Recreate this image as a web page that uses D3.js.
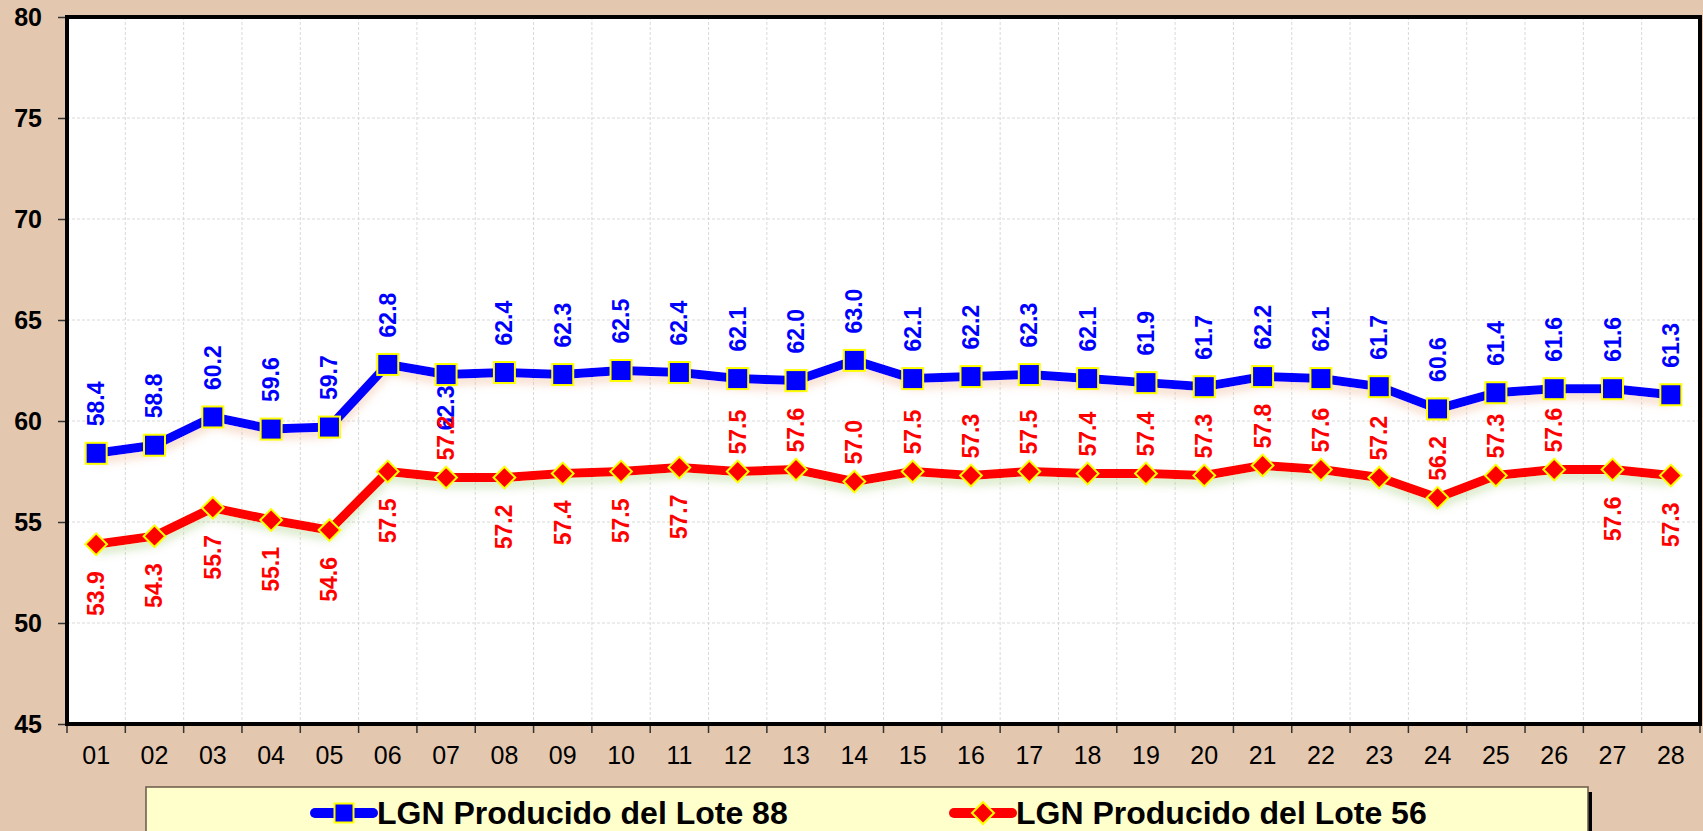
<!DOCTYPE html>
<html>
<head>
<meta charset="utf-8">
<script src="https://cdn.jsdelivr.net/npm/d3@7"></script>
<style>
  html, body { margin: 0; padding: 0; background: #E4C7AF; }
  svg { display: block; }
</style>
</head>
<body>
<svg id="chart" width="1703" height="831"></svg>
<script>
const categories = ["01","02","03","04","05","06","07","08","09","10","11","12","13","14","15","16","17","18","19","20","21","22","23","24","25","26","27","28"];
const lote88 = [58.4,58.8,60.2,59.6,59.7,62.8,62.3,62.4,62.3,62.5,62.4,62.1,62.0,63.0,62.1,62.2,62.3,62.1,61.9,61.7,62.2,62.1,61.7,60.6,61.4,61.6,61.6,61.3];
const lote56 = [53.9,54.3,55.7,55.1,54.6,57.5,57.2,57.2,57.4,57.5,57.7,57.5,57.6,57.0,57.5,57.3,57.5,57.4,57.4,57.3,57.8,57.6,57.2,56.2,57.3,57.6,57.6,57.3];
// label side per point: 1 = above the point, -1 = below
const lote88Side = [1,1,1,1,1,1,-1,1,1,1,1,1,1,1,1,1,1,1,1,1,1,1,1,1,1,1,1,1];
const lote56Side = [-1,-1,-1,-1,-1,-1,1,-1,-1,-1,-1,1,1,1,1,1,1,1,1,1,1,1,1,1,1,1,-1,-1];
const yTicks = [45,50,55,60,65,70,75,80];
const seriesNames = ["LGN Producido del Lote 88","LGN Producido del Lote 56"];

const svg = d3.select("#chart");
const X0 = 67, X1 = 1700, Y0 = 17, Y1 = 724;
const x = d3.scaleBand().domain(categories).range([X0, X1]).padding(0);
const y = d3.scaleLinear().domain([45, 80]).range([Y1, Y0]);
const cx = c => x(c) + x.bandwidth() / 2;
const font = "'Liberation Sans', Arial, sans-serif";

const defs = svg.append("defs");
function shadow(id, color) {
  const f = defs.append("filter").attr("id", id).attr("x", "-5%").attr("y", "-50%").attr("width", "110%").attr("height", "200%");
  f.append("feDropShadow").attr("dx", 0).attr("dy", 6).attr("stdDeviation", 4)
    .attr("flood-color", color).attr("flood-opacity", 0.35);
}
shadow("shB", "#e89a6a");
shadow("shR", "#8fbf5a");

// plot background
svg.append("rect").attr("x", X0).attr("y", Y0).attr("width", X1 - X0).attr("height", Y1 - Y0).attr("fill", "#fff");

// gridlines
const grid = svg.append("g").attr("stroke", "#d9d9d9").attr("stroke-width", 1).attr("stroke-dasharray", "3,2");
grid.selectAll("line.h").data(yTicks).join("line")
  .attr("x1", X0).attr("x2", X1).attr("y1", d => y(d)).attr("y2", d => y(d));
grid.selectAll("line.v").data(categories.slice(1)).join("line")
  .attr("x1", d => x(d)).attr("x2", d => x(d)).attr("y1", Y0).attr("y2", Y1);

// axes
const yAxis = svg.append("g").attr("transform", `translate(${X0},0)`)
  .call(d3.axisLeft(y).tickValues(yTicks).tickSize(9).tickPadding(16).tickFormat(d3.format("d")));
yAxis.select(".domain").remove();
yAxis.selectAll("line").attr("stroke", "#333").attr("stroke-width", 1.5);
yAxis.selectAll("text").attr("font-family", font).attr("font-size", 25).attr("font-weight", "bold").attr("fill", "#000");

const xAxis = svg.append("g").attr("transform", `translate(0,${Y1})`)
  .call(d3.axisBottom(x).tickSize(0).tickPadding(22));
xAxis.select(".domain").remove();
xAxis.selectAll("text").attr("font-family", font).attr("font-size", 25).attr("fill", "#000");
const tickPos = categories.map(c => x(c)).concat([X1]);
svg.append("g").selectAll("line").data(tickPos).join("line")
  .attr("x1", d => d).attr("x2", d => d).attr("y1", Y1).attr("y2", Y1 + 9)
  .attr("stroke", "#333").attr("stroke-width", 1.5);

// series
const series = [
  { vals: lote88, side: lote88Side, color: "#0000FF", sh: "shB", shape: "square", offAbove: 27, offBelow: 11 },
  { vals: lote56, side: lote56Side, color: "#FF0000", sh: "shR", shape: "diamond", offAbove: 17, offBelow: 27 }
];
const line = d3.line().x((d, i) => cx(categories[i])).y(d => y(d));

series.forEach(s => {
  svg.append("path").datum(s.vals).attr("d", line).attr("fill", "none")
    .attr("stroke", s.color).attr("stroke-width", 9).attr("stroke-linejoin", "round")
    .attr("filter", `url(#${s.sh})`);
});
series.forEach(s => {
  const g = svg.append("g");
  if (s.shape === "square") {
    g.selectAll("rect").data(s.vals).join("rect")
      .attr("x", (d, i) => cx(categories[i]) - 10.5).attr("y", d => y(d) - 10.5)
      .attr("width", 21).attr("height", 21)
      .attr("fill", s.color).attr("stroke", "#FFFF00").attr("stroke-width", 2);
  } else {
    const sym = d3.symbol().type(d3.symbolSquare).size(235)();
    g.selectAll("path").data(s.vals).join("path")
      .attr("d", sym)
      .attr("transform", (d, i) => `translate(${cx(categories[i])},${y(d)}) rotate(45)`)
      .attr("fill", s.color).attr("stroke", "#FFFF00").attr("stroke-width", 2);
  }
});
series.forEach(s => {
  svg.append("g").selectAll("text").data(s.vals).join("text")
    .attr("transform", (d, i) => {
      const off = s.side[i] > 0 ? -s.offAbove : s.offBelow;
      return `translate(${cx(categories[i])},${y(d) + off}) rotate(-90)`;
    })
    .attr("text-anchor", (d, i) => s.side[i] > 0 ? "start" : "end")
    .attr("dominant-baseline", "central")
    .attr("font-family", font).attr("font-size", 23).attr("font-weight", "bold")
    .attr("fill", s.color)
    .text(d => d.toFixed(1));
});

// plot border
svg.append("rect").attr("x", X0).attr("y", Y0).attr("width", X1 - X0).attr("height", Y1 - Y0)
  .attr("fill", "none").attr("stroke", "#000").attr("stroke-width", 4);

// legend
const LX = 146, LY = 787, LW = 1442;
svg.append("rect").attr("x", LX + 4).attr("y", LY + 5).attr("width", LW).attr("height", 80).attr("fill", "#000");
svg.append("rect").attr("x", LX).attr("y", LY).attr("width", LW).attr("height", 80)
  .attr("fill", "#FFFFCC").attr("stroke", "#6b5a4a").attr("stroke-width", 1.5);
const legendX = [315, 954];
series.forEach((s, k) => {
  const g = svg.append("g").attr("transform", `translate(${legendX[k]},813)`);
  g.append("line").attr("x1", 0).attr("x2", 58).attr("y1", 0).attr("y2", 0)
    .attr("stroke", s.color).attr("stroke-width", 10).attr("stroke-linecap", "round");
  if (s.shape === "square") {
    g.append("rect").attr("x", 29 - 9.5).attr("y", -9.5).attr("width", 19).attr("height", 19)
      .attr("fill", s.color).attr("stroke", "#FFFF00").attr("stroke-width", 2);
  } else {
    g.append("path").attr("d", "M29,-11 L40,0 L29,11 L18,0 Z")
      .attr("fill", s.color).attr("stroke", "#FFFF00").attr("stroke-width", 2);
  }
  g.append("text").attr("x", 62).attr("y", 0).attr("dominant-baseline", "central")
    .attr("font-family", font).attr("font-size", 32).attr("font-weight", "bold").attr("fill", "#000")
    .text(seriesNames[k]);
});
</script>
</body>
</html>
